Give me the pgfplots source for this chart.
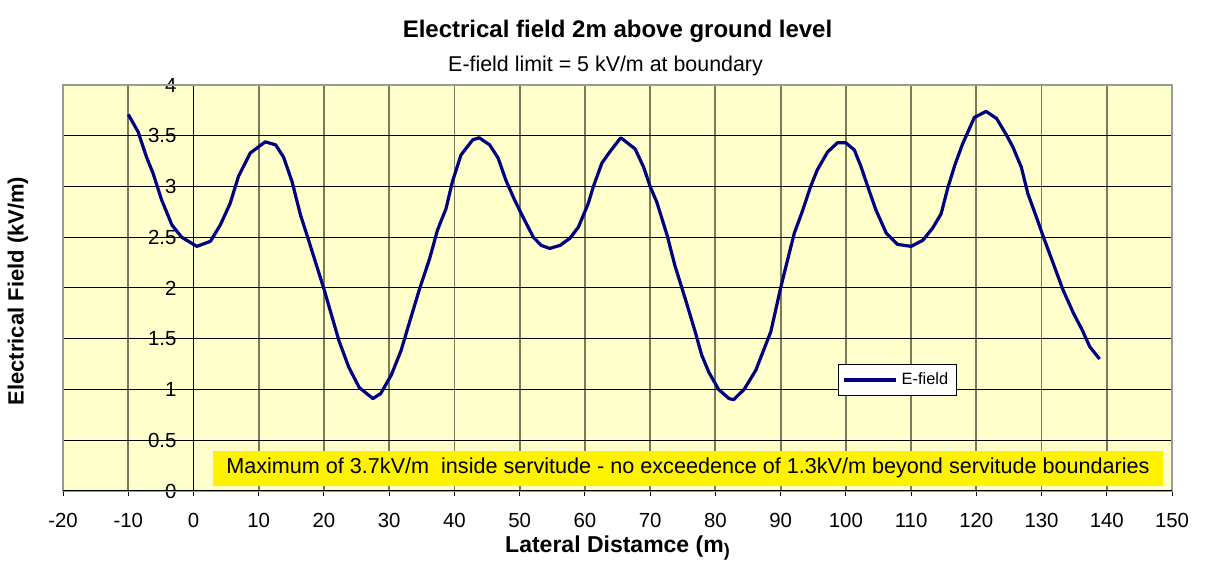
\documentclass[border=0pt]{standalone}
\usepackage{pgfplots}
\pgfplotsset{compat=1.18}
\usepackage{fontspec}
\setmainfont{Liberation Sans}
\definecolor{bgyel}{HTML}{FFFFCC}
\definecolor{vgrid}{HTML}{7A7A58}
\definecolor{navyline}{HTML}{000080}
\definecolor{framegray}{HTML}{9A9A9A}
\begin{document}
\begin{tikzpicture}[x=1pt,y=1pt]
\useasboundingbox (-31.5,-42.5) rectangle (572,245.5);
\begin{axis}[
  at={(65.25pt,0pt)}, anchor=origin,
  scale only axis, width=554.5pt, height=203pt,
  xmin=-20, xmax=150, ymin=0, ymax=4,
  axis x line=bottom, axis y line=middle,
  x axis line style={-, black, line width=0.5pt},
  y axis line style={-, black, line width=0.5pt},
  xtick={-20,-10,...,150}, ytick={0,0.5,...,4},
  yticklabels={0,0.5,1,1.5,2,2.5,3,3.5,4},
  hide obscured x ticks=false, hide obscured y ticks=false,
  tick align=outside, major tick length=2.5pt,
  tick style={black, line width=0.5pt},
  axis background/.style={fill=bgyel},
  grid=major,
  x grid style={vgrid, line width=0.9pt},
  y grid style={black, line width=0.5pt},
  /pgf/number format/assume math mode=true,
  ticklabel style={font=\fontsize{10.2}{12}\selectfont},
  xticklabel style={yshift=-5pt},
  yticklabel style={xshift=-2.5pt},
  clip=false,
  legend style={at={(axis cs:98.8,1.25)}, anchor=north west, draw=black, line width=0.5pt,
    font=\fontsize{8.2}{10}\selectfont, inner sep=2pt, row sep=0pt},
  legend image code/.code={\draw[#1, line width=1.6pt] (0pt,0pt) -- (26pt,0pt);},
  legend cell align=left,
]
\draw[framegray, line width=1.1pt] (rel axis cs:0,0) rectangle (rel axis cs:1,1);
\draw[black, line width=0.5pt] (rel axis cs:0,0) -- (rel axis cs:1,0);
\addplot[navyline, line width=1.6pt, line join=round] coordinates {
(-10,3.71) (-8.5,3.54) (-7.2,3.29) (-6.2,3.13) (-4.9,2.87) (-3.3,2.62) (-1.8,2.50)
(0.5,2.41) (2.6,2.46) (4.1,2.62) (5.6,2.83) (6.9,3.10) (8.7,3.33) (11.0,3.44)
(12.6,3.41) (13.8,3.29) (15.1,3.05) (16.4,2.72) (17.4,2.52) (20.0,1.99) (22.3,1.48)
(23.8,1.22) (25.4,1.02) (27.5,0.91) (28.7,0.96) (30.3,1.14) (31.8,1.38) (33.1,1.66)
(34.6,1.98) (36.2,2.29) (37.4,2.57) (38.7,2.78) (39.7,3.05) (41.0,3.31) (42.8,3.46)
(43.8,3.48) (45.4,3.41) (46.7,3.28) (47.9,3.06) (49.2,2.87) (50.5,2.70) (52.1,2.50)
(53.3,2.42) (54.6,2.39) (56.2,2.42) (57.7,2.49) (59.0,2.60) (60.5,2.83) (61.3,3.00)
(62.6,3.23) (63.8,3.34) (65.5,3.48) (67.7,3.37) (69.0,3.19) (70.0,3.00) (71.0,2.85)
(72.6,2.52) (73.8,2.22) (75.4,1.89) (76.9,1.57) (77.9,1.34) (79.0,1.17) (80.5,1.00)
(82.1,0.91) (82.8,0.90) (84.4,1.00) (86.2,1.19) (88.5,1.57) (90.0,2.00) (91.0,2.26)
(92.1,2.54) (93.3,2.75) (94.6,3.00) (95.6,3.16) (97.2,3.34) (98.7,3.43) (100.0,3.43)
(101.3,3.36) (102.3,3.20) (103.3,3.01) (104.6,2.77) (106.2,2.54) (107.9,2.43) (110.0,2.41)
(111.8,2.47) (113.3,2.59) (114.6,2.73) (115.6,2.98) (116.7,3.21) (117.9,3.42) (119.7,3.68)
(121.5,3.74) (123.1,3.67) (124.6,3.51) (125.6,3.39) (126.9,3.19) (127.9,2.93) (129.2,2.70)
(130.3,2.50) (131.8,2.24) (133.3,1.98) (134.9,1.75) (136.2,1.59) (137.4,1.42) (138.9,1.30)
};
\addlegendentry{E-field}
\node[fill=yellow, minimum width=475pt, minimum height=17.5pt, inner sep=0pt,
  font=\fontsize{10.8}{12}\selectfont] at (axis cs:75.8,0.225)
  {Maximum of 3.7kV/m\ \ inside servitude - no exceedence of 1.3kV/m beyond servitude boundaries};
\node[font=\bfseries\fontsize{12}{14}\selectfont] at ([yshift=27pt]rel axis cs:0.5,1) {Electrical field 2m above ground level};
\node[font=\fontsize{10.7}{12}\selectfont] at ([yshift=9.5pt,xshift=-6pt]rel axis cs:0.5,1) {E-field limit = 5 kV/m at boundary};
\node[font=\bfseries\fontsize{11.5}{14}\selectfont] at ([yshift=-28.5pt]rel axis cs:0.5,0) {Lateral Distamce (m\raisebox{-0.4ex}{\fontsize{9}{10}\selectfont )}};
\node[font=\bfseries\fontsize{11}{13}\selectfont, rotate=90] at ([xshift=-22.5pt]rel axis cs:0,0.4926) {Electrical Field (kV/m)};
\end{axis}
\end{tikzpicture}
\end{document}
